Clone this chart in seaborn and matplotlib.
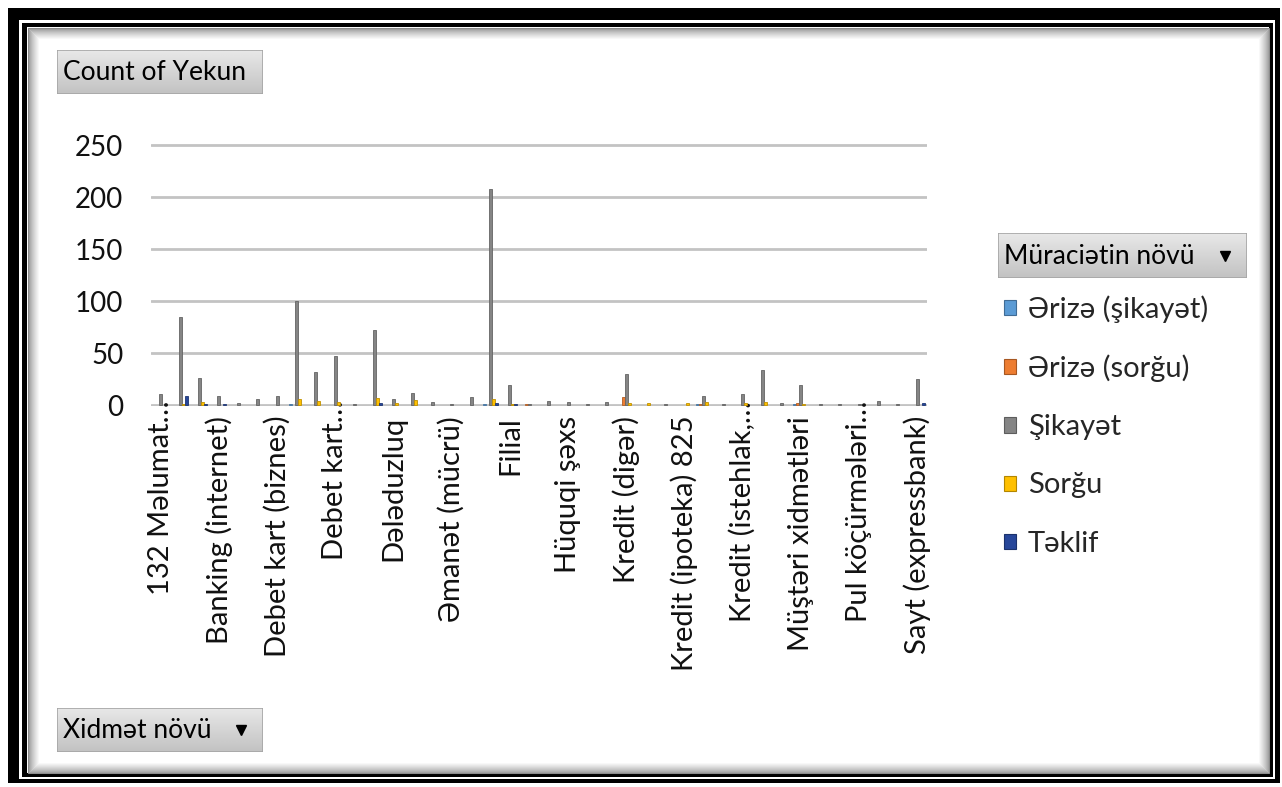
import numpy as np
import pandas as pd
import matplotlib
matplotlib.use("Agg")
import matplotlib.pyplot as plt
from matplotlib.patches import Rectangle
from matplotlib.transforms import ScaledTranslation
import seaborn as sns

# ---- data -----------------------------------------------------------------
categories = [
    "132 Məlumat mərkəzi", "ATM", "Bank kartları",
    "Banking (internet)", "Banking (mobil)", "Biznes kredit",
    "Debet kart (biznes)", "Debet kart (fərdi)", "Debet kart (maaş)",
    "Debet kart (pensiya)", "Depozit", "Digər",
    "Dələduzluq", "E-imza", "Express pay",
    "Əmanət (mücrü)", "Əmanət (müddətli)", "Faiz dərəcələri",
    "Filial", "Hesab (cari)", "Hesab (kart)",
    "Hüquqi şəxs", "İnternet bankçılıq", "Kassa",
    "Kredit (digər)", "Kredit (ipoteka)", "Kredit (ipoteka) 700",
    "Kredit (ipoteka) 825", "Kredit (istehlak)", "Kredit (istehlak, girovlu)",
    "Kredit (istehlak, onlayn)", "Kredit kartı", "Lizinq",
    "Müştəri xidmətləri", "Nağd pul", "Onlayn müraciət",
    "Pul köçürmələri (beynəlxalq)", "Pul köçürmələri (daxili)", "Qızıl",
    "Sayt (expressbank)",
]

# axis shows every third category name
tick_labels = [
    "132 Məlumat…", "Banking (internet)", "Debet kart (biznes)", "Debet kart…",
    "Dələduzluq", "Əmanət (mücrü)", "Filial", "Hüquqi şəxs", "Kredit (digər)",
    "Kredit (ipoteka) 825", "Kredit (istehlak,…", "Müştəri xidmətləri",
    "Pul köçürmələri…", "Sayt (expressbank)",
]

series = ["Ərizə (şikayət)", "Ərizə (sorğu)", "Şikayət", "Sorğu", "Təklif"]

erize_sikayet = [0, 0, 0, 0, 0, 0, 0, 1, 0, 0,
                 0, 0, 0, 0, 0, 0, 0, 1, 0, 0,
                 0, 0, 0, 0, 0, 0, 0, 0, 1, 0,
                 0, 0, 0, 1, 0, 0, 0, 0, 0, 0]
erize_sorgu = [0, 0, 0, 0, 0, 0, 0, 0, 0, 0,
               0, 0, 0, 0, 0, 0, 0, 0, 0, 1,
               0, 0, 0, 0, 8, 0, 0, 0, 1, 0,
               0, 0, 0, 2, 0, 0, 0, 0, 0, 0]
sikayet = [11, 85, 26, 9, 2, 6, 9, 100, 32, 47,
           1, 72, 6, 12, 3, 1, 8, 208, 19, 1,
           4, 3, 1, 3, 30, 0, 1, 0, 9, 1,
           11, 34, 2, 19, 1, 1, 1, 4, 1, 25]
sorgu = [0, 1, 3, 0, 0, 0, 0, 6, 4, 3,
         0, 7, 2, 5, 0, 0, 0, 6, 1, 0,
         0, 0, 0, 0, 2, 2, 0, 2, 3, 0,
         2, 3, 0, 1, 0, 0, 0, 0, 0, 0]
teklif = [0, 9, 1, 1, 0, 0, 0, 0, 0, 0,
          0, 2, 0, 0, 0, 0, 0, 2, 1, 0,
          0, 0, 0, 0, 0, 0, 0, 0, 0, 0,
          0, 0, 0, 0, 0, 0, 0, 0, 0, 2]

colors = ["#5B9BD5", "#ED7D31", "#858585", "#FFC000", "#27479A"]
y_ticks = [0, 50, 100, 150, 200, 250]

values = [erize_sikayet, erize_sorgu, sikayet, sorgu, teklif]
df = pd.DataFrame({
    "Xidmət növü": np.tile(categories, len(series)),
    "Müraciətin növü": np.repeat(series, len(categories)),
    "Count": np.concatenate([np.asarray(v, dtype=float) for v in values]),
})

# ---- figure ---------------------------------------------------------------
W, H = 1282, 787
sns.set_theme(style="white")
plt.rcParams["font.family"] = ["Lato", "Open Sans", "DejaVu Sans"]
FS_AXIS = 20
FS_XLAB = 21
FS_LEG = 21
FS_BTN = 19

fig = plt.figure(figsize=(W / 100, H / 100), dpi=100)
fig.patch.set_facecolor("white")


def darker(c, f=0.7):
    return tuple(np.array(matplotlib.colors.to_rgb(c)) * f)


def px_rect(x0, y0, x1, y1, **kw):
    r = Rectangle((x0 / W, 1 - y1 / H), (x1 - x0) / W, (y1 - y0) / H,
                  transform=fig.transFigure, **kw)
    fig.add_artist(r)
    return r


# double black frame with a soft inner shadow
px_rect(8, 8, 1280, 783, facecolor="black", edgecolor="none", zorder=-20)
px_rect(19, 20, 1275, 779, facecolor="white", edgecolor="none", zorder=-19)
px_rect(22, 23, 1273, 777, facecolor="black", edgecolor="none", zorder=-18)
px_rect(27, 27, 1269, 773, facecolor="white", edgecolor="none", zorder=-17)
for k in range(12):
    g = 0.55 + 0.45 * (k / 11) ** 0.7
    px_rect(27 + k + 0.5, 27 + k + 0.5, 1269 - k - 0.5, 773 - k - 0.5,
            facecolor="none", edgecolor=(g, g, g), linewidth=0.75, zorder=-16)


def button(x0, y0, x1, y1, label, arrow=False):
    bax = fig.add_axes([x0 / W, 1 - y1 / H, (x1 - x0) / W, (y1 - y0) / H])
    grad = np.linspace(0.91, 0.76, 64).reshape(-1, 1)
    bax.imshow(grad, cmap="gray", vmin=0, vmax=1, aspect="auto",
               extent=(0, 1, 0, 1), interpolation="bilinear")
    bax.set_xlim(0, 1)
    bax.set_ylim(0, 1)
    bax.axis("off")
    bax.add_patch(Rectangle((0, 0), 1, 1, transform=bax.transAxes,
                            facecolor="none", edgecolor="#a6a6a6", linewidth=1.2))
    bax.text(6 / (x1 - x0), 0.48, label, ha="left", va="center",
             fontsize=FS_BTN, color="black", transform=bax.transAxes)
    if arrow:
        bax.plot([1 - 22 / (x1 - x0)], [0.5], marker="v", markersize=7,
                 color="black", transform=bax.transAxes)
    return bax


button(57, 50, 263, 94, "Count of Yekun")
button(57, 708, 263, 752, "Xidmət növü", arrow=True)
button(998, 233, 1247, 278, "Müraciətin növü", arrow=True)

# ---- bars -----------------------------------------------------------------
ax_left, ax_right = 151, 927
ymin, ymax = -1, 252
px_per_unit = 1.04
ax_bottom = 405 + px_per_unit * (0 - ymin)
ax_top = 405 - px_per_unit * ymax
ax = fig.add_axes([ax_left / W, 1 - ax_bottom / H,
                   (ax_right - ax_left) / W, (ax_bottom - ax_top) / H])
ax.set_facecolor("none")

sns.barplot(data=df, x="Xidmət növü", y="Count", hue="Müraciətin növü",
            order=categories, hue_order=series, palette=colors,
            width=0.77, saturation=1, errorbar=None, linewidth=0, ax=ax)

# slightly darker outline on every bar
for bar in ax.patches:
    if bar.get_height() > 0:
        bar.set_edgecolor(darker(bar.get_facecolor()[:3], 0.75))
        bar.set_linewidth(0.6)

ax.set_xlim(-0.5, len(categories) - 0.5)
ax.set_ylim(ymin, ymax)
ax.set_yticks(y_ticks)
ax.set_yticklabels([str(v) for v in y_ticks])
for v in y_ticks:
    ax.axhline(v, color="#c3c3c3", linewidth=2.0, zorder=0.5)
ax.grid(False)
for s in ax.spines.values():
    s.set_visible(False)

ax.set_xticks(range(0, len(categories), 3))
ax.set_xticklabels(tick_labels, rotation=90, ha="center", va="top")
ax.tick_params(axis="x", length=0, pad=7, labelsize=FS_XLAB, labelcolor="#111111")
ax.tick_params(axis="y", length=0, pad=20, labelsize=FS_AXIS, labelcolor="#111111")
ax.set_xlabel("")
ax.set_ylabel("")

# truncated names sit higher so their text lines up with the others
for lab in ax.get_xticklabels():
    if lab.get_text().endswith("…"):
        lab.set_transform(lab.get_transform()
                          + ScaledTranslation(0, 0.15, fig.dpi_scale_trans))

handles, labels = ax.get_legend_handles_labels()
if ax.legend_ is not None:
    ax.legend_.remove()
for h, c in zip(handles, colors):
    h.set_edgecolor(darker(c))
    h.set_linewidth(0.8)
fig.legend(handles, labels, loc="upper left",
           bbox_to_anchor=(1004 / W, 1 - 295 / H),
           frameon=False, fontsize=FS_LEG, handlelength=0.42, handleheight=0.42,
           handletextpad=0.4, labelspacing=1.1, borderpad=0, borderaxespad=0)

fig.savefig("out.png", dpi=100, facecolor="white")
